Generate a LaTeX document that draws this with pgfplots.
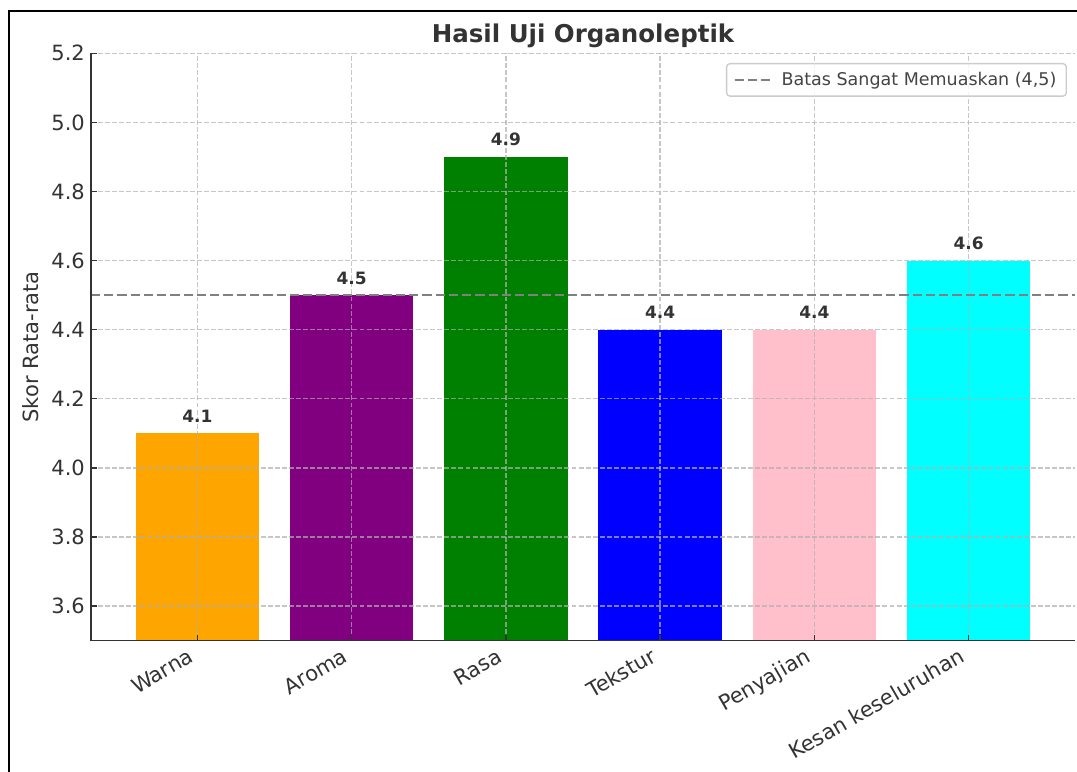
\documentclass[border=0pt]{standalone}
\usepackage{pgfplots}
\pgfplotsset{compat=1.18}
\usepackage{fontspec}
\setmainfont{DejaVu Sans}
\definecolor{txt}{HTML}{333333}
\definecolor{legtxt}{HTML}{444444}
\definecolor{cOrange}{RGB}{255,165,0}
\definecolor{cPurple}{RGB}{128,0,128}
\definecolor{cGreen}{RGB}{0,128,0}
\definecolor{cBlue}{RGB}{0,0,255}
\definecolor{cPink}{RGB}{255,192,203}
\definecolor{cCyan}{RGB}{0,255,255}
\definecolor{gridc}{RGB}{176,176,176}
\definecolor{refc}{RGB}{128,128,128}
\definecolor{legframe}{RGB}{204,204,204}
\pgfplotsset{
  mybar/.style={ybar, bar width=0.8, bar shift=0pt, draw=none, forget plot,
    nodes near coords={\pgfmathprintnumber[assume math mode=true,fixed,fixed zerofill,precision=1]{\pgfplotspointmeta}},
    every node near coord/.append style={font=\fontsize{10.2}{12}\selectfont\bfseries, text=txt, anchor=base, inner sep=0pt, yshift=6.6pt}},
}
\begin{document}
\begin{tikzpicture}
\useasboundingbox (0,0) rectangle (646.2pt,463.2pt);
\fill[white] (0,0) rectangle (646.2pt,463.2pt);
\draw[black, line width=1.6pt] (5.4pt,-10pt) -- (5.4pt,456.6pt) -- (660pt,456.6pt);
\begin{axis}[
  at={(54.6pt,78.8pt)}, anchor=south west,
  scale only axis, width=590.4pt, height=352.4pt,
  xmin=-0.69, xmax=5.69, ymin=3.5, ymax=5.2,
  axis x line*=bottom, axis y line*=left,
  axis line style={color=txt, line width=0.8pt},
  tick align=inside, major tick length=3.5pt,
  tick style={color=txt, line width=0.8pt},
  xtick={0,1,2,3,4,5},
  xticklabels={Warna,Aroma,Rasa,Tekstur,Penyajian,Kesan keseluruhan},
  ytick={3.6,3.8,4.0,4.2,4.4,4.6,4.8,5.0,5.2},
  yticklabels={3.6,3.8,4.0,4.2,4.4,4.6,4.8,5.0,5.2},
  yticklabel style={font=\fontsize{12.6}{15}\selectfont, text=txt, anchor=east, inner sep=0pt, xshift=-3.5pt},
  xticklabel style={font=\fontsize{12.6}{15}\selectfont, text=txt, anchor=north east, inner sep=0pt, text height=9.6pt, text depth=3pt, xshift=-6.3pt, yshift=-3.5pt, rotate=30},
  grid=major,
  major grid style={color=gridc, opacity=0.7, line width=0.8pt, dash pattern=on 2.96pt off 1.28pt},
  axis on top,
  title={Hasil Uji Organoleptik},
  every axis title/.style={at={(0.5,1)}, anchor=base, yshift=6.2pt, font=\fontsize{14.7}{17}\selectfont\bfseries, text=txt},
  ylabel={Skor Rata-rata},
  ylabel style={at={(axis description cs:-0.061,0.5)}, anchor=center, font=\fontsize{12.6}{15}\selectfont, text=txt},
  legend style={at={(1,1)}, anchor=north east, xshift=-4.8pt, yshift=-5.8pt,
    draw=legframe, line width=0.8pt, rounded corners=2pt, fill=white, fill opacity=0.8, text opacity=1,
    font=\fontsize{10.5}{12.6}\selectfont, text=legtxt, inner xsep=4pt, inner ysep=3pt,
    /tikz/every odd column/.append style={column sep=4.5pt}},
  legend cell align=left,
  legend image code/.code={\draw[#1] (0pt,0pt) -- (21pt,0pt);},
]
\addplot[mybar, fill=cOrange] coordinates {(0,4.1)};
\addplot[mybar, fill=cPurple] coordinates {(1,4.5)};
\addplot[mybar, fill=cGreen] coordinates {(2,4.9)};
\addplot[mybar, fill=cBlue] coordinates {(3,4.4)};
\addplot[mybar, fill=cPink] coordinates {(4,4.4)};
\addplot[mybar, fill=cCyan] coordinates {(5,4.6)};
\addplot[color=refc, line width=1.5pt, dash pattern=on 5.55pt off 2.4pt] coordinates {(-0.69,4.5) (5.69,4.5)};
\addlegendentry{Batas Sangat Memuaskan (4,5)}
\end{axis}
\end{tikzpicture}
\end{document}
